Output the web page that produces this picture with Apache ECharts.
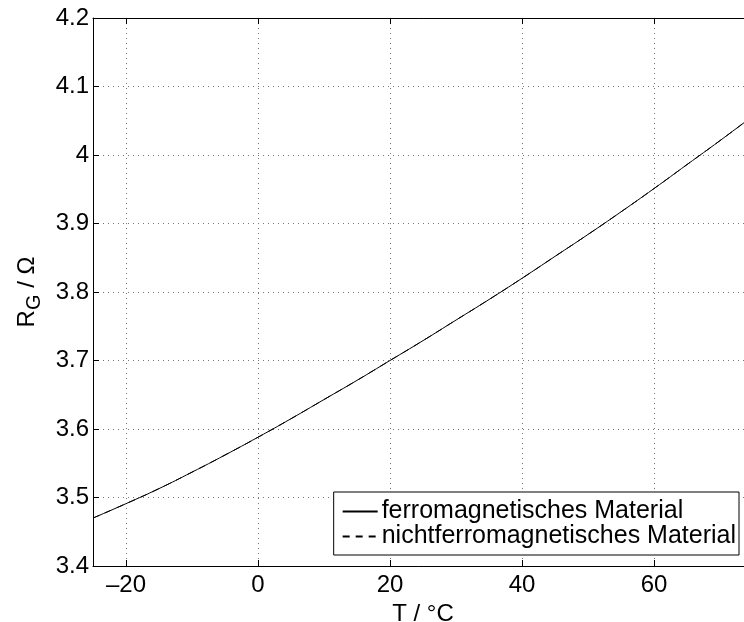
<!DOCTYPE html>
<html>
<head>
<meta charset="utf-8">
<script src="https://cdn.jsdelivr.net/npm/echarts@6/dist/echarts.min.js"></script>
<style>
  html, body { margin: 0; padding: 0; background: #fff; overflow: hidden; }
  #myChart { width: 744px; height: 622px; }
</style>
</head>
<body>
<div id="myChart"></div>
<script>
  // temperatures in °C
  var temps = [-25, -20, -15, -10, -5, 0, 5, 10, 15, 20, 25, 30, 35, 40, 45, 50, 55, 60, 65, 70, 75]
  // R_G
  var ferroValues = [3.470, 3.491, 3.513, 3.537, 3.562, 3.588, 3.615, 3.643, 3.671, 3.700, 3.729, 3.759, 3.789, 3.820, 3.852, 3.884, 3.917, 3.951, 3.986, 4.021, 4.057]
  var nichtFerroValues = [3.470, 3.491, 3.513, 3.537, 3.562, 3.588, 3.615, 3.643, 3.671, 3.700, 3.729, 3.759, 3.789, 3.820, 3.852, 3.884, 3.917, 3.951, 3.986, 4.021, 4.057]
  var seriesNames = ['ferromagnetisches Material', 'nichtferromagnetisches Material']

  function pairs(xs, ys) {
    return xs.map(function (x, i) { return [x, ys[i]] })
  }

  var font = 'Liberation Sans, Arial, Helvetica, sans-serif'
  var gridLine = { show: true, lineStyle: { color: '#777', type: [1, 4], width: 1 } }

  var myChart = echarts.init(document.getElementById('myChart'))
  var option = {
    animation: false,
    backgroundColor: '#fff',
    textStyle: { fontFamily: font },
    grid: { left: 93, right: -9, top: 18, bottom: 56, outerBoundsMode: 'none', containLabel: false },
    legend: {
      orient: 'vertical',
      right: 5,
      bottom: 67,
      backgroundColor: '#fff',
      borderColor: '#000',
      borderWidth: 1,
      borderRadius: 0,
      padding: [7, 3, 6, 8],
      itemGap: 0,
      itemWidth: 35,
      itemHeight: 14,
      itemStyle: { opacity: 0 },
      textStyle: { fontSize: 25, color: '#000', fontFamily: font, padding: [0, 0, 0, -1] },
      data: seriesNames
    },
    xAxis: [
      {
        type: 'value',
        min: -25,
        max: 75,
        splitNumber: 5,
        name: 'T / °C',
        nameLocation: 'middle',
        nameGap: 26,
        nameTextStyle: { fontSize: 24, color: '#000' },
        axisLine: { show: true, onZero: false, lineStyle: { color: '#000', width: 1 } },
        axisTick: { inside: true, length: 6, lineStyle: { color: '#000' } },
        axisLabel: {
          fontSize: 24, color: '#000', margin: 7,
          showMinLabel: false, showMaxLabel: false,
          formatter: function (v) { return String(v).replace('-', '\u2013') }
        },
        splitLine: gridLine
      },
      {
        type: 'value',
        position: 'top',
        min: -25,
        max: 75,
        splitNumber: 5,
        axisLine: { show: true, onZero: false, lineStyle: { color: '#000', width: 1 } },
        axisTick: { inside: true, length: 6, lineStyle: { color: '#000' } },
        axisLabel: { show: false },
        splitLine: { show: false }
      }
    ],
    yAxis: {
      type: 'value',
      min: 3.4,
      max: 4.2,
      interval: 0.1,
      name: '{r|R}{g|G}{r| / Ω}',
      nameLocation: 'middle',
      nameGap: 48,
      nameTextStyle: {
        color: '#000',
        rich: {
          r: { fontSize: 24, fontFamily: font, color: '#000' },
          g: { fontSize: 20, fontFamily: font, color: '#000', padding: [14, 0, 0, 0] }
        }
      },
      axisLine: { show: true, onZero: false, lineStyle: { color: '#000', width: 1 } },
      axisTick: { inside: true, length: 6, lineStyle: { color: '#000' } },
      axisLabel: { fontSize: 24, color: '#000', margin: 4 },
      splitLine: gridLine
    },
    series: [
      {
        name: seriesNames[0],
        type: 'line',
        symbol: 'none',
        smooth: true,
        lineStyle: { color: '#000', width: 1, type: 'solid' },
        itemStyle: { color: '#000' },
        data: pairs(temps, ferroValues)
      },
      {
        name: seriesNames[1],
        type: 'line',
        symbol: 'none',
        smooth: true,
        lineStyle: { color: '#000', width: 1, type: [7, 6] },
        itemStyle: { color: '#000' },
        data: pairs(temps, nichtFerroValues)
      }
    ]
  }
  myChart.setOption(option)
</script>
</body>
</html>
